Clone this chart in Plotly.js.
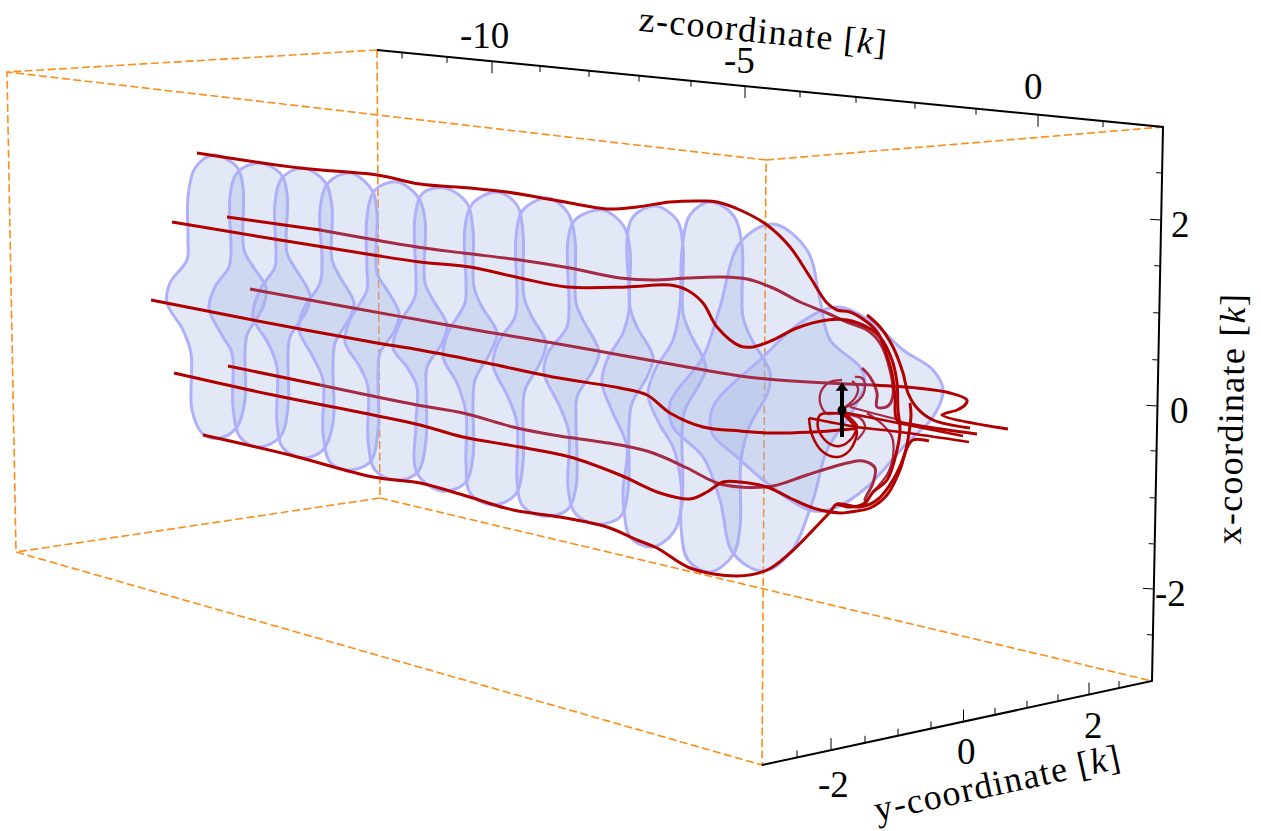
<!DOCTYPE html>
<html><head><meta charset="utf-8">
<script src="https://cdn.plot.ly/plotly-3.0.1.min.js"></script>
<style>html,body{margin:0;padding:0;background:#fff}#g{width:1261px;height:831px}
.annotation[data-index="9"] text,.annotation[data-index="10"] text,.annotation[data-index="11"] text{letter-spacing:1.3px}</style>
</head><body><div id="g"></div>
<script>
// Every value below in its projected (picture) coordinates.
const slice1=[[213,155],[237,167],[243,187],[244,250],[252,265],[266,288],[263,307],[247,335],[245,353],[245,400],[237,427],[220,438],[203,434],[192,410],[191,353],[183,330],[167,303],[170,283],[187,260],[188,240],[188,197],[195,168],[213,155]];
const slice2=[[258,163],[280,173],[287,193],[287,253],[295,268],[310,295],[307,310],[290,337],[288,353],[288,407],[280,437],[258,447],[240,437],[233,407],[232,353],[223,337],[209,308],[215,287],[229,267],[231,253],[230,197],[237,173],[258,163]];
const slice3=[[303,168],[325,182],[332,207],[332,260],[340,277],[354,303],[350,317],[335,343],[333,367],[333,423],[323,450],[303,458],[283,448],[277,423],[277,367],[268,343],[253,317],[260,290],[275,267],[276,253],[275,203],[282,178],[303,168]];
const slice4=[[350,173],[372,190],[377,213],[377,273],[387,290],[399,313],[395,330],[380,353],[378,373],[378,430],[370,462],[348,470],[330,462],[323,433],[323,380],[313,357],[299,330],[303,310],[320,283],[322,260],[320,210],[328,183],[350,173]];
const slice5=[[397,182],[418,197],[425,220],[425,283],[433,300],[447,325],[442,343],[427,367],[426,387],[426,440],[417,473],[395,480],[375,470],[368,440],[368,387],[360,367],[345,342],[350,320],[367,290],[367,270],[367,217],[375,190],[397,182]];
const slice6=[[445,188],[467,203],[473,230],[474,287],[482,307],[497,333],[490,353],[475,380],[473,403],[473,457],[465,483],[441,491],[417,473],[416,423],[417,387],[407,367],[393,348],[400,323],[415,297],[416,280],[415,217],[423,193],[445,188]];
const slice7=[[497,192],[517,205],[523,233],[524,297],[532,317],[546,343],[540,363],[525,390],[523,410],[523,463],[515,495],[492,505],[470,493],[466,463],[466,413],[457,383],[443,357],[448,333],[465,303],[466,283],[465,227],[473,203],[497,192]];
const slice8=[[548,198],[568,213],[575,240],[576,303],[583,320],[599,352],[593,370],[577,397],[576,417],[576,487],[567,510],[542,516],[522,505],[517,480],[517,423],[508,397],[493,365],[498,343],[515,317],[517,297],[516,237],[523,210],[548,198]];
const slice9=[[602,210],[623,225],[630,250],[630,307],[637,327],[653,357],[647,377],[632,403],[629,427],[628,490],[620,517],[595,524],[575,513],[568,487],[569,433],[560,407],[544,373],[548,353],[567,327],[569,307],[568,240],[575,220],[602,210]];
const slice10=[[655,206],[677,220],[683,247],[683,313],[690,333],[706,367],[700,383],[685,410],[682,433],[682,503],[673,533],[652,547],[630,537],[624,510],[623,490],[627,447],[613,413],[602,383],[607,360],[623,333],[629,310],[627,240],[633,217],[655,206]];
const slice11=[[710,202],[733,215],[742,245],[743,317],[752,340],[770,372],[768,392],[750,425],[741,460],[740,527],[733,555],[710,572],[688,560],[681,527],[681,483],[673,447],[660,425],[648,395],[655,370],[673,340],[680,305],[682,250],[690,215],[710,202]];
const slice12=[[773,224],[807,250],[820,300],[830,340],[860,367],[865,383],[853,410],[827,450],[813,500],[790,553],[763,571],[733,553],[720,500],[703,457],[673,427],[670,403],[703,357],[720,307],[740,243],[773,224]];
const slice13=[[837,307],[873,323],[903,350],[933,370],[943,390],[933,417],[907,443],[867,487],[837,507],[813,511],[790,500],[763,480],[737,457],[712,433],[713,407],[763,357],[800,323],[837,307]];
const slices=[slice1,slice2,slice3,slice4,slice5,slice6,slice7,slice8,slice9,slice10,slice11,slice12,slice13];

const lineTop=[[197,153],[300,168],[377,175],[420,184],[470,188],[507,192],[537,197],[570,203],[607,209],[637,207],[670,202],[703,201],[717,202],[740,210],[767,225],[790,247],[810,277],[827,303],[837,310],[850,312],[867,322],[878,333],[885,350],[892,373],[895,397],[897,420],[910,424],[977,434]];
const lineUpperFront=[[172,222],[280,240],[373,255],[420,262],[470,267],[520,278],[567,287],[627,287],[670,285],[687,290],[703,303],[717,327],[740,346],[753,347],[773,340],[797,328],[827,320],[847,320],[867,327],[880,337],[892,360],[897,383],[898,410],[900,430],[897,450],[887,480],[873,492],[865,503],[850,507],[837,504]];
const lineUpperBack=[[320,230],[417,247],[463,253],[520,260],[570,268],[620,278],[653,280],[687,278],[720,277],[747,279],[773,288],[800,302],[827,313],[847,322],[867,330],[880,343],[890,370],[893,395],[888,406],[877,407],[877,393],[870,377],[862,368]];
const lineUpperBackStart=[[227,217],[320,230]];
const lineMiddleFront=[[151,300],[253,320],[377,343],[420,350],[487,363],[553,377],[620,388],[647,395],[670,413],[703,427],[740,431],[773,433],[840,430],[857,427],[842,412]];
const lineMiddleBack=[[250,289],[353,308],[420,320],[487,332],[553,343],[620,355],[687,367],[740,376],[767,379],[827,383],[873,385]];
const lineMiddleBackEnd=[[873,385],[917,388],[950,393],[967,400],[965,405],[957,410],[942,415],[1008,429]];
const lineLowerBackStart=[[228,366],[320,385]];
const lineLowerBack=[[320,385],[417,405],[463,413],[513,427],[553,435],[620,445],[653,453],[687,468],[717,483],[740,487],[773,486],[807,475],[847,463],[863,461],[875,468],[873,483],[865,500],[867,505]];
const lineLowerFront=[[174,373],[273,395],[373,415],[420,425],[463,437],[520,447],[570,457],[620,475],[660,493],[690,499],[707,492],[723,482],[740,482],[767,487],[790,498],[813,508],[840,513],[850,512],[870,508],[887,495],[900,470],[907,448],[913,440],[929,441]];
const lineBottom=[[203,435],[290,455],[373,477],[420,483],[463,495],[513,510],[560,517],[607,527],[637,540],[657,548],[690,568],[737,576],[767,570],[790,553],[813,530],[830,512],[837,504],[860,507],[877,500],[893,480],[905,453],[909,433],[911,415],[910,403]];
const lineOuterTip=[[867,315],[880,327],[893,347],[903,373],[908,393],[917,408],[933,420],[970,428]];
const curlFront=[[809,418],[812,435],[823,452],[838,457],[850,450],[857,433],[855,427],[843,415],[832,413],[820,415],[818,428],[827,442],[840,446],[852,438],[857,427]];
const curlChord=[[809,418],[857,427],[900,432],[969,442]];
const tailInner=[[842,412],[883,420],[963,436]];
const curlBack1=[[842,380],[828,383],[820,395],[822,408],[828,414],[842,411]];
const curlBack2=[[843,408],[855,403],[863,395],[865,385],[862,378],[855,377]];
const curlBack3=[[845,407],[855,398],[858,388],[852,381]];
const curlBack4=[[867,413],[883,425],[892,437],[893,457],[888,473],[873,492]];
const curlBack5=[[842,414],[860,418],[865,428],[857,440]];
const curlBack6=[[850,407],[880,415],[900,420]];
const frontLines=[lineUpperFront,lineMiddleFront,lineLowerFront,lineBottom,lineTop,lineOuterTip,lineMiddleBackEnd,lineUpperBackStart,lineLowerBackStart];
const backLines=[lineUpperBack,lineMiddleBack,lineLowerBack];
const thinFront=[curlFront,curlChord,tailInner];
const thinBack=[curlBack1,curlBack2,curlBack3,curlBack4,curlBack5,curlBack6];

const arrowShaft=[[842,437],[842,388]];
const arrowHead=[[842,388]];
const arrowDot=[[842,410]];

const frameSolid=[[377,50],[1163,127],[1152,681],[762,765]];
const frameDash1=[[377,50],[7,72],[16,552],[762,765],[766,160],[7,72]];
const frameDash2=[[766,160],[1163,127]];
const frameDash3=[[377,50],[380,498],[16,552]];
const frameDash4=[[380,498],[1152,681]];

const zTickX=[402,447,492,540,589,639,691,745,800,856,915,976,1038,1103];
const zTickMajor=[0,0,1,0,0,0,0,1,0,0,0,0,1,0];
const xTickY=[173,220,266,313,360,406,451,498,544,589,635];
const xTickMajor=[0,1,0,0,0,1,0,0,0,1,0];
const yTickX=[797,831,865,898,931,963.5,995,1027,1058,1089,1119];
const yTickMajor=[0,1,0,0,0,1,0,0,0,1,0];

const zLabels=[['-10',484,35],['-5',739,60],['0',1033,86]];
const yLabels=[['-2',833,784],['0',966,751],['2',1093,725]];
const xLabels=[['2',1180,224],['0',1179,410],['-2',1170,593]];

const RED='#b00000', MUTED='#a52a44', BLUE='#b0b0fa', ORANGE='#ff8c14', FILL='rgba(162,178,228,0.3)';
const xs=a=>a.map(p=>p[0]), ys=a=>a.map(p=>p[1]);
const traces=[];
const poly=(a,color,w,dash)=>traces.push({type:'scatter',mode:'lines',x:xs(a),y:ys(a),hoverinfo:'skip',line:{color:color,width:w,dash:dash||'solid'}});
const curve=(a,color,w)=>traces.push({type:'scatter',mode:'lines',x:xs(a),y:ys(a),hoverinfo:'skip',line:{color:color,width:w,shape:'spline',smoothing:1}});

[frameDash1,frameDash2,frameDash3,frameDash4].forEach(a=>poly(a,ORANGE,1.6,'8px,3.5px'));
slices.forEach(a=>traces.push({type:'scatter',mode:'lines',x:xs(a),y:ys(a),fill:'toself',fillcolor:FILL,hoverinfo:'skip',line:{color:BLUE,width:3,shape:'spline',smoothing:1}}));
backLines.forEach(a=>curve(a,MUTED,3));
thinBack.forEach(a=>curve(a,MUTED,2.3));
frontLines.forEach(a=>curve(a,RED,3));
thinFront.forEach(a=>curve(a,RED,2.5));

poly(arrowShaft,'#000',4);
traces.push({type:'scatter',mode:'markers',x:xs(arrowHead),y:ys(arrowHead),hoverinfo:'skip',marker:{symbol:'triangle-up',size:11,color:'#000'}});
traces.push({type:'scatter',mode:'markers',x:xs(arrowDot),y:ys(arrowDot),hoverinfo:'skip',marker:{symbol:'circle',size:9,color:'#000'}});

poly(frameSolid,'#000',2);
const tx=[],ty=[];
const addTick=(x0,y0,dx,dy)=>{tx.push(x0,x0+dx,null);ty.push(y0,y0+dy,null);};
zTickX.forEach((x,i)=>{const y=50+(x-377)*77/786,l=zTickMajor[i]?12:6;addTick(x,y,0,l);});
xTickY.forEach((y,i)=>{const x=1163-(y-127)*11/554,l=xTickMajor[i]?11:6;addTick(x,y,-l,-l*0.06);});
yTickX.forEach((x,i)=>{const y=765-(x-762)*84/390,l=yTickMajor[i]?12:7;addTick(x,y,0,-l);});
traces.push({type:'scatter',mode:'lines',x:tx,y:ty,hoverinfo:'skip',line:{color:'#000',width:1}});

const FONT='"Liberation Serif",serif';
const note=(t,x,y,size,ang)=>({text:t,x:x,y:y,xref:'x',yref:'y',showarrow:false,textangle:ang||0,xanchor:'center',yanchor:'middle',font:{family:FONT,size:size,color:'#000'}});
const annotations=[...zLabels,...yLabels,...xLabels].map(l=>note(l[0],l[1],l[2],37));
annotations.push(note('z-coordinate [<i>k</i>]',763,31,36,5.6));
annotations.push(note('y-coordinate [<i>k</i>]',997,783,36,-12.3));
annotations.push(note('x-coordinate [<i>k</i>]',1231,419,36,-89));

Plotly.newPlot('g',traces,{
 width:1261,height:831,margin:{l:0,r:0,t:0,b:0,pad:0},showlegend:false,
 paper_bgcolor:'#fff',plot_bgcolor:'#fff',hovermode:false,
 xaxis:{range:[0,1261],visible:false,fixedrange:true},
 yaxis:{range:[831,0],visible:false,fixedrange:true},
 annotations:annotations
},{displayModeBar:false,staticPlot:true});
</script></body></html>
